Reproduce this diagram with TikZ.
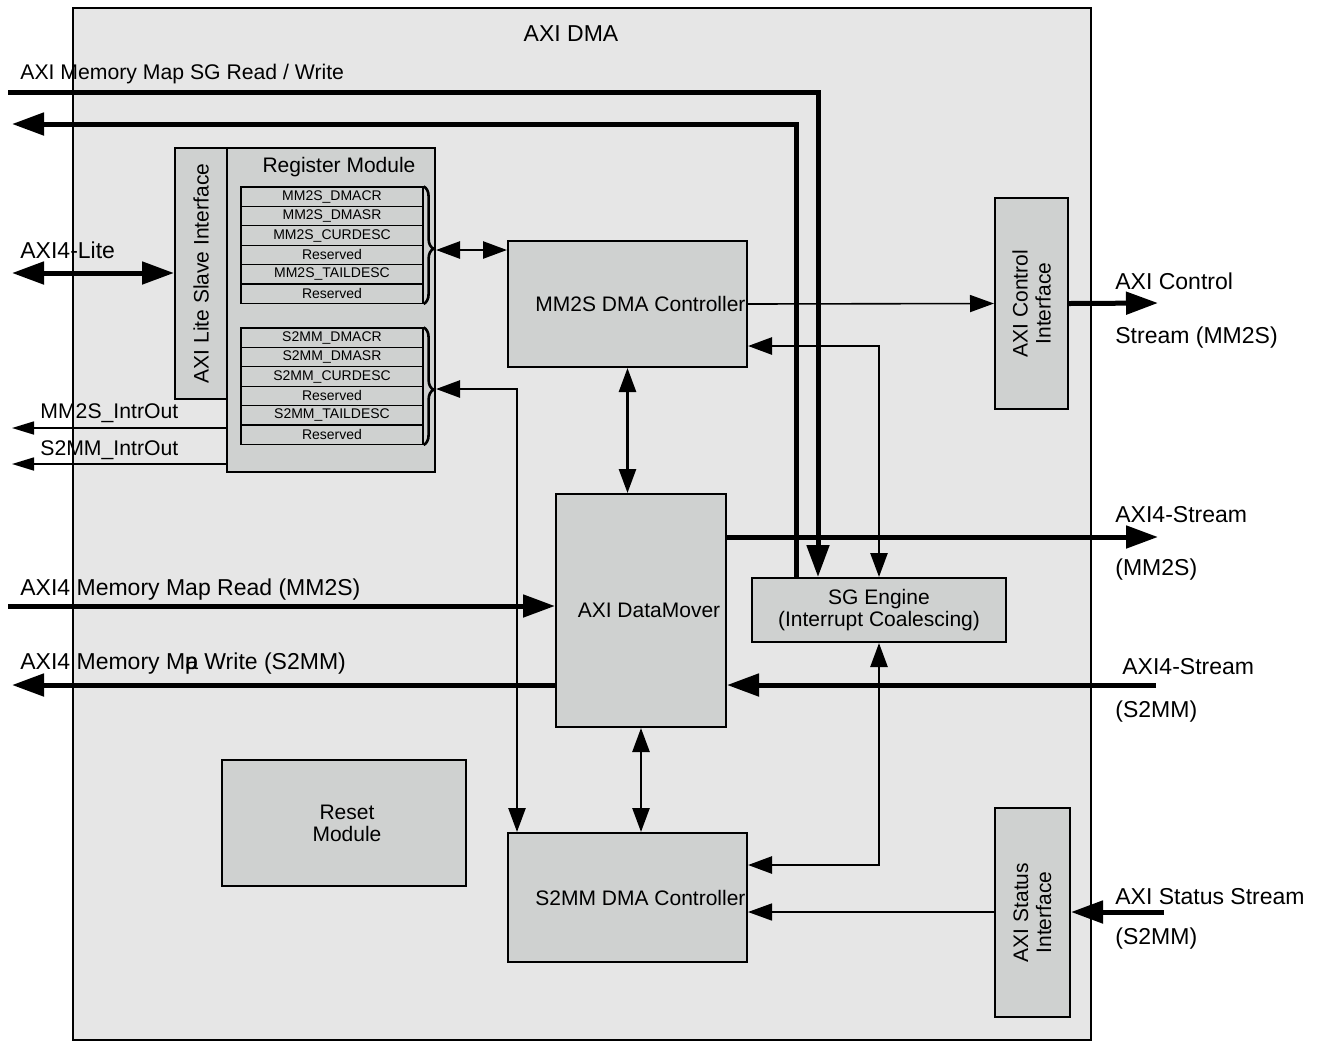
\documentclass[tikz,border=0pt]{standalone}
\usepackage{fontspec}
\setmainfont{Liberation Sans}
\usetikzlibrary{arrows.meta,positioning,fit,decorations.pathreplacing}
\definecolor{dmabg}{RGB}{230,230,230}
\definecolor{blockgray}{RGB}{207,209,208}
\tikzset{
  >={Triangle[length=12pt,width=8.5pt]},
  block/.style={draw,line width=1pt,fill=blockgray,inner sep=0pt},
  reg/.style={draw,line width=0.6pt,fill=blockgray,minimum width=91pt,minimum height=9.7pt,inner sep=0pt,font=\fontsize{7}{8}\selectfont},
  twoline/.style={align=center,font=\fontsize{10.5}{11}\selectfont},
  bus/.style={line width=2.5pt,>={Triangle[length=16pt,width=11pt]}},
  link/.style={line width=1.3pt},
  wire/.style={line width=0.8pt},
  intr/.style={line width=0.8pt,>={Triangle[length=11pt,width=6.5pt]}},
  lbl/.style={font=\fontsize{11.5}{13}\selectfont,anchor=base west,inner sep=0pt},
  smalllbl/.style={lbl,font=\fontsize{10.6}{12}\selectfont},
}
\begin{document}
\begin{tikzpicture}[x=0.5pt,y=-0.5pt,font=\fontsize{10.5}{12.5}\selectfont]
  \useasboundingbox (0,0) rectangle (1319,1046);
  % outer block
  \node[draw,line width=0.8pt,fill=dmabg,inner sep=0pt,fit={(73,8) (1091,1040)}] (dma) {};
  \node[font=\fontsize{11.5}{13}\selectfont] (dmatitle) at (571,34) {AXI DMA};

  % register side
  \node[block,fit={(175,148) (227,399)}] (lite) {};
  \node[rotate=90] (litetxt) at (lite.center) {AXI Lite Slave Interface};
  \node[block,fit={(227,148) (435,472)}] (regmod) {};
  \node (regtitle) at (339,167) {Register Module};
  \foreach \reg [count=\i from 0] in {MM2S\_DMACR,MM2S\_DMASR,MM2S\_CURDESC,Reserved,MM2S\_TAILDESC,Reserved}
    \node[reg] (mm\i) at (332,{196.7+19.4*\i}) {\reg};
  \foreach \reg [count=\i from 0] in {S2MM\_DMACR,S2MM\_DMASR,S2MM\_CURDESC,Reserved,S2MM\_TAILDESC,Reserved}
    \node[reg] (s2\i) at (332,{337.7+19.4*\i}) {\reg};
  \draw[link,decorate,decoration={brace,amplitude=5pt,aspect=0.53}] (mm0.north east) -- (mm5.south east);
  \draw[link,decorate,decoration={brace,amplitude=5pt,aspect=0.53}] (s20.north east) -- (s25.south east);
  \coordinate (mmtip) at (436,250);
  \coordinate (s2tip) at (436,389);

  % main blocks
  \node[block,fit={(508,241) (747,367)},label={[xshift=6.5pt]center:MM2S DMA Controller}] (mm2s) {};
  \node[block,fit={(556,494) (726,727)},label={[xshift=4pt]center:AXI DataMover}] (dm) {};
  \node[block,fit={(752,578) (1006,642)},label={[twoline]center:SG Engine\\(Interrupt Coalescing)}] (sg) {};
  \node[block,fit={(508,833) (747,962)},label={[xshift=6.5pt]center:S2MM DMA Controller}] (s2mm) {};
  \node[block,fit={(222,760) (466,886)},label={[twoline,xshift=1.5pt]center:Reset\\Module}] (reset) {};
  \node[block,fit={(995,198) (1068,409)}] (ctrlif) {};
  \node[rotate=90,twoline,font=\fontsize{10.5}{11.5}\selectfont] (ctrltxt) at (ctrlif.center) {AXI Control\\Interface};
  \node[block,fit={(995,808) (1070,1017)}] (statif) {};
  \node[rotate=90,twoline,font=\fontsize{10.5}{11.5}\selectfont] (stattxt) at (statif.center) {AXI Status\\Interface};

  % free ends
  \coordinate (sgrw) at (8,92);
  \coordinate (sgwr) at (12,124);
  \coordinate (litein) at (12,273);
  \coordinate (mmintr) at (12,428);
  \coordinate (s2intr) at (12,464);
  \coordinate (mmrd) at (8,606);
  \coordinate (mmwr) at (12,685);
  \coordinate (ctrlout) at (1158,303);
  \coordinate (mm2sout) at (1158,537);
  \coordinate (s2in) at (1156,685);
  \coordinate (statin) at (1164,912);

  % connections
  \draw[bus,->] (sgrw) -| ([xshift=-30.5pt]sg.north);
  \draw[bus,->] ([xshift=-41.5pt]sg.north) |- (sgwr);
  \draw[bus,<->] (litein) -- (litein -| lite.west);
  \draw[intr,->] (mmintr -| regmod.west) -- (mmintr);
  \draw[intr,->] (s2intr -| regmod.west) -- (s2intr);
  \draw[link,<->] (mmtip) -- (mmtip -| mm2s.west);
  \draw[link,<->] (s2tip) -| ([xshift=5pt]s2mm.north west);
  \draw[wire,->] (mm2s.east) -- (ctrlif.west);
  \draw[bus,->] (ctrlif.east) -- (ctrlout);
  \draw[link,<->] ([yshift=-21pt]mm2s.east) -| (sg.north);
  \draw[link,<->] (sg.south) |- ([yshift=16.25pt]s2mm.east);
  \draw[link,<->] (mm2s.south) -- (mm2s.south |- dm.north);
  \draw[bus,->] (dm.east |- mm2sout) -- (mm2sout);
  \draw[bus,->] (mmrd) -- (mmrd -| dm.west);
  \draw[bus,->] (mmwr -| dm.west) -- (mmwr);
  \draw[bus,->] (s2in) -- (s2in -| dm.east);
  \draw[link,<->] (dm.south) -- (dm.south |- s2mm.north);
  \draw[bus,->] (statin) -- (statin -| statif.east);
  \draw[wire,->] (statin -| statif.west) -- (statin -| s2mm.east);

  % port labels
  \node[smalllbl] (sgrwlbl) at (20,79) {AXI Memory Map SG Read / Write};
  \node[lbl] (litelbl) at (20,258) {AXI4-Lite};
  \node[smalllbl] (mmintrlbl) at (40,418) {MM2S\_IntrOut};
  \node[smalllbl] (s2intrlbl) at (40,455) {S2MM\_IntrOut};
  \node[lbl] (mmrdlbl) at (20,595) {AXI4 Memory Map Read (MM2S)};
  \node[lbl] (mmwrlbl) at (20,669) {AXI4 Memory M\rlap{p}a Write (S2MM)};
  \node[lbl] (ctrllbl) at (1115,289) {AXI Control};
  \node[lbl] (ctrllblb) at (1115,343) {Stream (MM2S)};
  \node[lbl] (mm2slbl) at (1115,522) {AXI4-Stream};
  \node[lbl] (mm2slblb) at (1115,575) {(MM2S)};
  \node[lbl] (s2inlbl) at (1122,674) {AXI4-Stream};
  \node[lbl] (s2inlblb) at (1115,717) {(S2MM)};
  \node[lbl] (statlbl) at (1115,904) {AXI Status Stream};
  \node[lbl] (statlblb) at (1115,944) {(S2MM)};
\end{tikzpicture}
\end{document}
